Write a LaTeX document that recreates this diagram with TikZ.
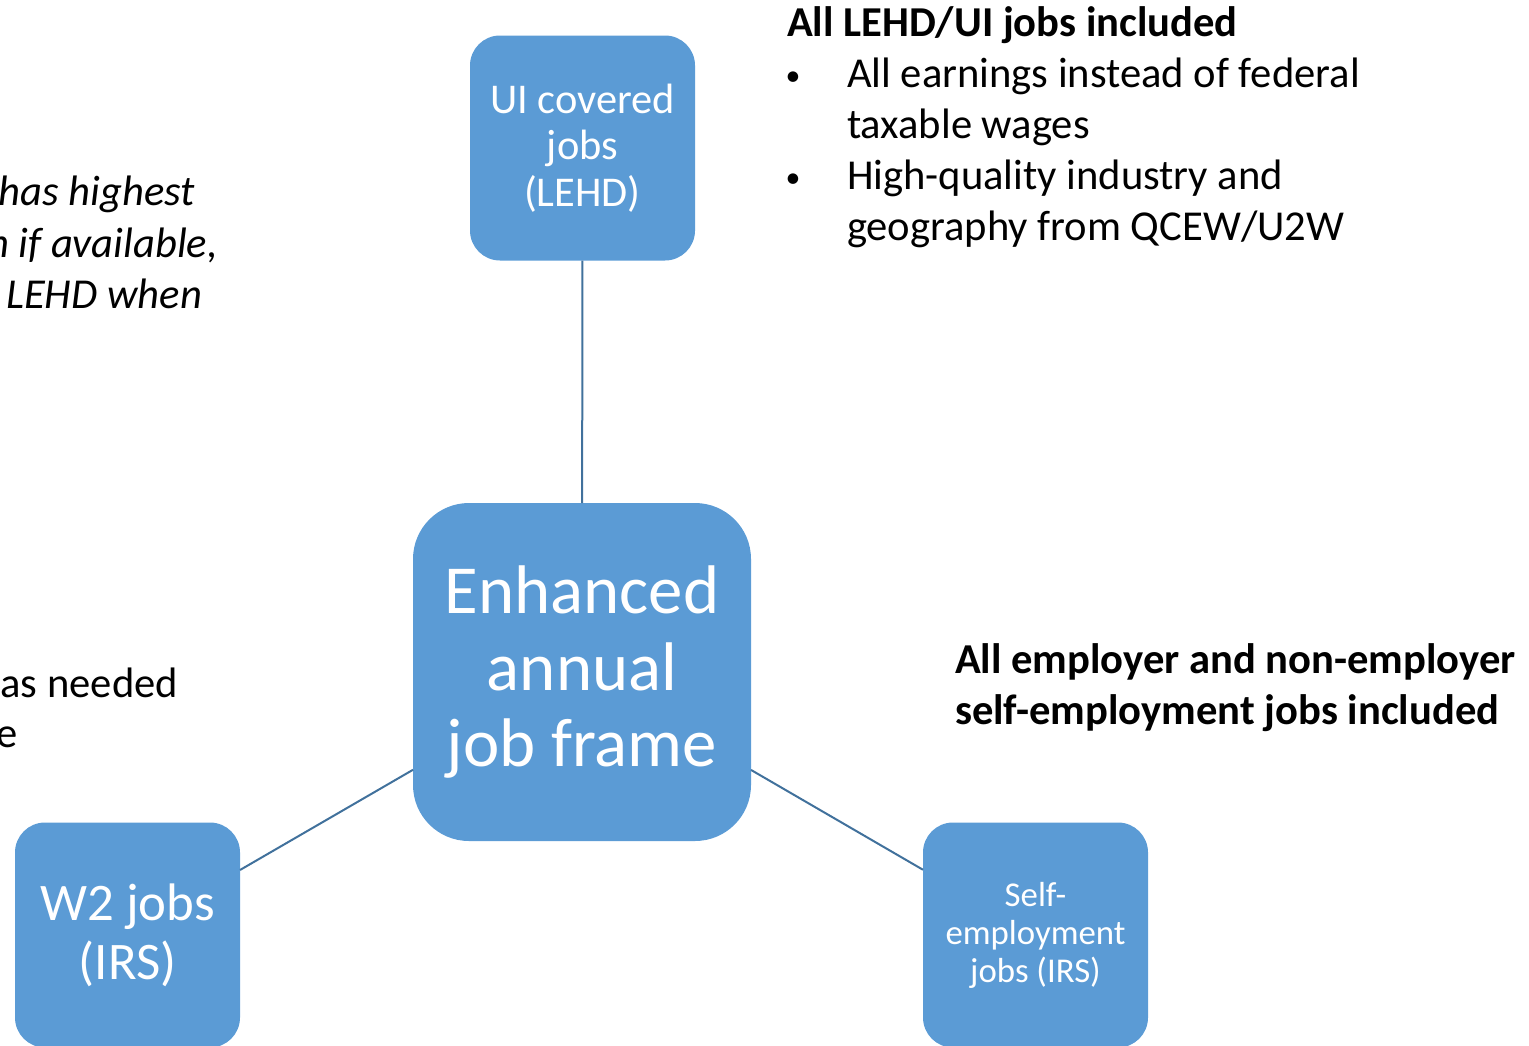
\documentclass[tikz,border=0pt]{standalone}
\usepackage{fontspec}
\setmainfont{Carlito}
\definecolor{boxblue}{HTML}{5B9BD5}
\definecolor{linkblue}{HTML}{41719C}

\begin{document}
\begin{tikzpicture}
    [x=0.5pt,y=-0.5pt,every node/.style={inner sep=0pt, outer sep=0pt},
     jobbox/.style={rectangle, rounded corners=15pt, fill=boxblue, text=white,
       align=center, minimum width=112.5pt, minimum height=112.5pt},
     note/.style={anchor=base west, font=\fontsize{21.3}{25.5}\selectfont},
     cutnote/.style={anchor=base east, font=\fontsize{21.3}{25.5}\selectfont},
     link/.style={draw=linkblue, line width=1pt}]
    \useasboundingbox (0,0) rectangle (1529,1045);
    \clip (0,0) rectangle (1529,1045);

    \node[jobbox, font=\fontsize{21.2}{23.25}\selectfont] (ui) at (582.5,148) {UI covered\\jobs\\(LEHD)};
    \node[jobbox, rounded corners=28pt, minimum width=169pt, minimum height=169pt,
      font=\fontsize{34.4}{38.25}\selectfont] (core) at (582,672) {Enhanced\\annual\\job frame};
    \node[jobbox, font=\fontsize{26.4}{29.5}\selectfont] (wtwo) at (127.5,935) {W2 jobs\\(IRS)};
    \node[jobbox, font=\fontsize{17.4}{19}\selectfont] (self) at (1035.5,935) {Self-\\employment\\jobs (IRS)};

    \foreach \from/\to in {ui/core, core/wtwo, core/self}
    \draw[link] (\from) -- (\to);

    % notes on the right
    \node[note] (lehdhead) at (787,36) {\bfseries All LEHD/UI jobs included};
    \node[note, anchor=base] (dot1) at (793,85) {\scalebox{0.7}{\textbullet}};
    \node[note] (earn1) at (847,87) {All earnings instead of federal};
    \node[note] (earn2) at (847,138) {taxable wages};
    \node[note, anchor=base] (dot2) at (793,187) {\scalebox{0.7}{\textbullet}};
    \node[note] (geo1) at (847,189) {High-quality industry and};
    \node[note] (geo2) at (847,240) {geography from QCEW/U2W};
    \node[note] (selfhead1) at (955,673) {\bfseries All employer and non-employer};
    \node[note] (selfhead2) at (955,724) {\bfseries self-employment jobs included};

    % notes cut off on the left
    \node[cutnote] (ital1) at (195,205) {\itshape has highest};
    \node[cutnote] (ital2) at (218,257) {\itshape n if available,};
    \node[cutnote] (ital3) at (202,308) {\itshape LEHD when};
    \node[cutnote] (need1) at (178,697) {as needed};
    \node[cutnote] (need2) at (18,747) {e};
\end{tikzpicture}
\end{document}
